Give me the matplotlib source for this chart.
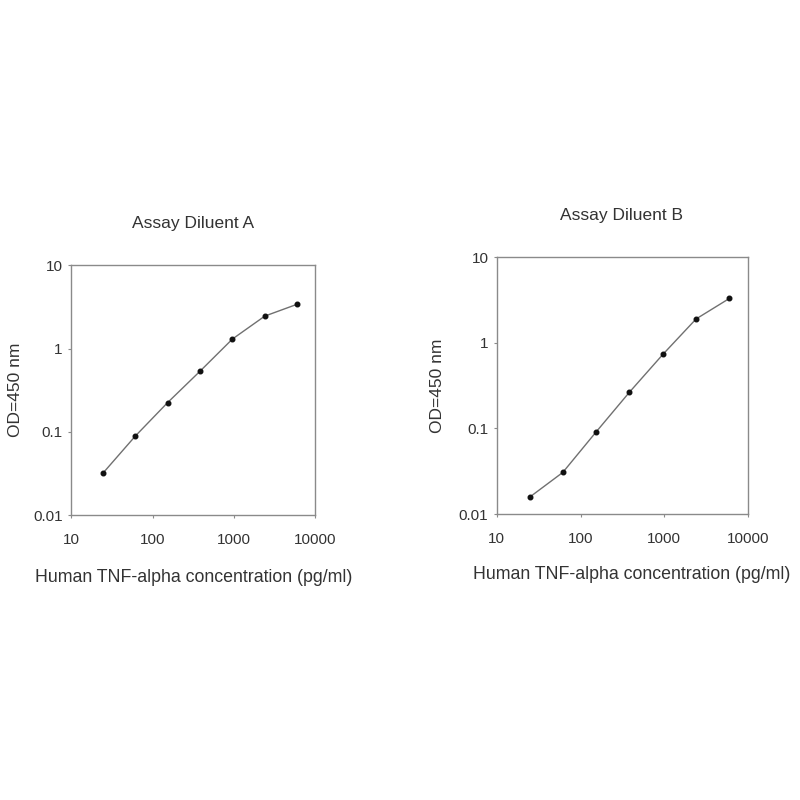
import numpy as np
import matplotlib
matplotlib.use("Agg")
import matplotlib.pyplot as plt
from matplotlib.ticker import FixedLocator, FixedFormatter, NullLocator

plt.rcParams['font.family'] = ['Liberation Sans', 'DejaVu Sans']

# concentrations (pg/ml)
conc = [24.6, 61.4, 153.6, 384, 960, 2400, 6000]
# OD-450 readings for each diluent
od_a = [0.032, 0.089, 0.225, 0.535, 1.3, 2.45, 3.4]
od_b = [0.0157, 0.0306, 0.091, 0.265, 0.73, 1.9, 3.3]

titles = ["Assay Diluent A", "Assay Diluent B"]
xlabel = "Human TNF-alpha concentration (pg/ml)"
ylabel = "OD=450 nm"
xticks = [10, 100, 1000, 10000]
xticklabels = ["10", "100", "1000", "10000"]
yticks = [0.01, 0.1, 1, 10]
yticklabels = ["0.01", "0.1", "1", "10"]

fig = plt.figure(figsize=(8, 8), dpi=100)
boxes = [[0.089, 0.356, 0.305, 0.3125], [0.621, 0.3575, 0.314, 0.321]]
title_pos = [(0.5, 1.168), (0.498, 1.163)]
xlabel_pos = [(0.5, -0.248), (0.538, -0.237)]
ylabel_pos = [(-0.23, 0.5), (-0.235, 0.5)]
text_col = "#333333"
spine_col = "#8a8a8a"

for i, (title, od) in enumerate(zip(titles, [od_a, od_b])):
    ax = fig.add_axes(boxes[i])
    ax.plot(conc, od, color="#707070", lw=1.0, zorder=2)
    ax.plot(conc, od, "o", color="#111111", ms=3.3, zorder=3)
    ax.set_xscale("log")
    ax.set_yscale("log")
    ax.set_xlim(10, 10000)
    ax.set_ylim(0.01, 10)
    ax.xaxis.set_major_locator(FixedLocator(xticks))
    ax.xaxis.set_major_formatter(FixedFormatter(xticklabels))
    ax.yaxis.set_major_locator(FixedLocator(yticks))
    ax.yaxis.set_major_formatter(FixedFormatter(yticklabels))
    ax.xaxis.set_minor_locator(NullLocator())
    ax.yaxis.set_minor_locator(NullLocator())
    ax.tick_params(direction="out", length=2, width=0.8, color=spine_col,
                   labelsize=11, labelcolor=text_col, pad=4)
    ax.tick_params(axis="x", pad=11)
    for s in ax.spines.values():
        s.set_color(spine_col)
        s.set_linewidth(1.0)
    ax.text(title_pos[i][0], title_pos[i][1], title, transform=ax.transAxes,
            ha="center", va="center", fontsize=12.5, color=text_col)
    ax.set_xlabel(xlabel, fontsize=12.8, color=text_col)
    ax.xaxis.set_label_coords(*xlabel_pos[i])
    ax.xaxis.label.set_va("center")
    ax.set_ylabel(ylabel, fontsize=12.5, color=text_col)
    ax.yaxis.set_label_coords(*ylabel_pos[i])
    ax.yaxis.label.set_va("center")

fig.savefig("out.png", dpi=100, facecolor="white")
